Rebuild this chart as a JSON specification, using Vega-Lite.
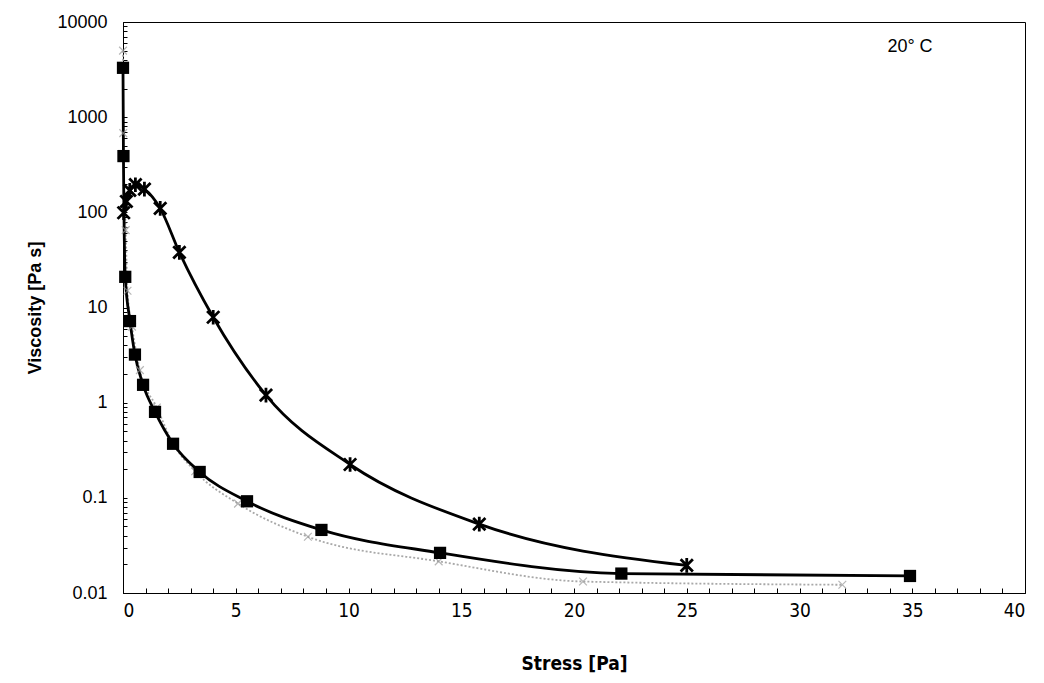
{
  "$schema": "https://vega.github.io/schema/vega-lite/v6.json",
  "width": 902,
  "height": 571,
  "autosize": {"type": "none"},
  "padding": {"left": 123, "top": 22, "right": 19, "bottom": 90},
  "background": "white",
  "config": {
    "view": {"stroke": "black", "strokeWidth": 1},
    "axis": {"grid": false, "domainColor": "black", "tickColor": "black", "labelColor": "black", "titleColor": "black"}
  },
  "datasets": {
    "curves": [
      {"series": "square", "stress": 0.0, "viscosity": 3300},
      {"series": "square", "stress": 0.02, "viscosity": 390},
      {"series": "square", "stress": 0.1, "viscosity": 21},
      {"series": "square", "stress": 0.31, "viscosity": 7.2},
      {"series": "square", "stress": 0.53, "viscosity": 3.2},
      {"series": "square", "stress": 0.89, "viscosity": 1.54},
      {"series": "square", "stress": 1.42, "viscosity": 0.8},
      {"series": "square", "stress": 2.22, "viscosity": 0.37},
      {"series": "square", "stress": 3.4, "viscosity": 0.187},
      {"series": "square", "stress": 5.5, "viscosity": 0.092},
      {"series": "square", "stress": 8.8, "viscosity": 0.046},
      {"series": "square", "stress": 14.06, "viscosity": 0.0264},
      {"series": "square", "stress": 22.1, "viscosity": 0.016},
      {"series": "square", "stress": 34.9, "viscosity": 0.0151},
      {"series": "star", "stress": 0.03, "viscosity": 99},
      {"series": "star", "stress": 0.15, "viscosity": 130},
      {"series": "star", "stress": 0.3, "viscosity": 170},
      {"series": "star", "stress": 0.55, "viscosity": 195},
      {"series": "star", "stress": 0.95, "viscosity": 175},
      {"series": "star", "stress": 1.65, "viscosity": 110},
      {"series": "star", "stress": 2.5, "viscosity": 38},
      {"series": "star", "stress": 4.0, "viscosity": 7.9},
      {"series": "star", "stress": 6.34, "viscosity": 1.2},
      {"series": "star", "stress": 10.07, "viscosity": 0.224},
      {"series": "star", "stress": 15.8, "viscosity": 0.053},
      {"series": "star", "stress": 25.0, "viscosity": 0.0195},
      {"series": "cross", "stress": 0.0, "viscosity": 5000},
      {"series": "cross", "stress": 0.01, "viscosity": 680},
      {"series": "cross", "stress": 0.12, "viscosity": 65},
      {"series": "cross", "stress": 0.2, "viscosity": 15},
      {"series": "cross", "stress": 0.4, "viscosity": 6.3},
      {"series": "cross", "stress": 0.75, "viscosity": 2.2},
      {"series": "cross", "stress": 1.5, "viscosity": 0.89},
      {"series": "cross", "stress": 2.2, "viscosity": 0.38},
      {"series": "cross", "stress": 3.2, "viscosity": 0.19},
      {"series": "cross", "stress": 5.1, "viscosity": 0.087},
      {"series": "cross", "stress": 8.2, "viscosity": 0.039},
      {"series": "cross", "stress": 14.0, "viscosity": 0.0215},
      {"series": "cross", "stress": 20.4, "viscosity": 0.0132},
      {"series": "cross", "stress": 31.9, "viscosity": 0.0122}
    ],
    "note": [{"stress": 34.9, "viscosity": 5460, "label": "20° C"}]
  },
  "encoding": {
    "x": {
      "field": "stress", "type": "quantitative",
      "scale": {"domain": [0, 40], "nice": false, "zero": false},
      "axis": {
        "title": "Stress [Pa]",
        "values": [0,1,2,3,4,5,6,7,8,9,10,11,12,13,14,15,16,17,18,19,20,21,22,23,24,25,26,27,28,29,30,31,32,33,34,35,36,37,38,39,40],
        "labelExpr": "datum.value % 5 == 0 ? datum.label : ''",
        "labelOverlap": false,
        "tickSize": -5,
        "labelPadding": 13,
        "labelFont": "DejaVu Sans Condensed, Liberation Sans, sans-serif",
        "labelFontSize": 19,
        "titleFont": "DejaVu Sans Condensed, Liberation Sans, sans-serif",
        "titleFontSize": 19,
        "titleFontWeight": "bold",
        "titlePadding": 34
      }
    },
    "y": {
      "field": "viscosity", "type": "quantitative",
      "scale": {"type": "log", "domain": [0.01, 10000], "nice": false},
      "axis": {
        "title": "Viscosity [Pa s]",
        "values": [0.01,0.02,0.03,0.04,0.05,0.06,0.07,0.08,0.09,0.1,0.2,0.3,0.4,0.5,0.6,0.7,0.8,0.9,1,2,3,4,5,6,7,8,9,10,20,30,40,50,60,70,80,90,100,200,300,400,500,600,700,800,900,1000,2000,3000,4000,5000,6000,7000,8000,9000,10000],
        "labelExpr": "abs(log(datum.value)/LN10 - round(log(datum.value)/LN10)) < 0.000001 ? datum.label : ''",
        "format": "~g",
        "labelOverlap": false,
        "tickSize": -4,
        "labelPadding": 20,
        "labelFont": "Liberation Sans",
        "labelFontSize": 18,
        "titleFont": "Liberation Sans",
        "titleFontSize": 18,
        "titleFontWeight": "bold",
        "titlePadding": 12
      }
    }
  },
  "layer": [
    {
      "data": {"name": "curves"},
      "transform": [{"filter": "datum.series == 'cross'"}],
      "mark": {"type": "line", "interpolate": "monotone", "stroke": "#a8a8a8", "strokeWidth": 1.8, "strokeDash": [2, 2]}
    },
    {
      "data": {"name": "curves"},
      "transform": [{"filter": "datum.series == 'square'"}],
      "mark": {"type": "line", "interpolate": "monotone", "stroke": "black", "strokeWidth": 2.8}
    },
    {
      "data": {"name": "curves"},
      "transform": [{"filter": "datum.series == 'star'"}],
      "mark": {"type": "line", "interpolate": "monotone", "stroke": "black", "strokeWidth": 2.8}
    },
    {
      "data": {"name": "curves"},
      "transform": [{"filter": "datum.series == 'cross'"}],
      "mark": {"type": "point", "shape": "M-1,-1L1,1M-1,1L1,-1", "filled": false, "stroke": "#999999", "strokeWidth": 1.2, "size": 60}
    },
    {
      "data": {"name": "curves"},
      "transform": [{"filter": "datum.series == 'square'"}],
      "mark": {"type": "point", "shape": "square", "filled": true, "fill": "black", "opacity": 1, "size": 150}
    },
    {
      "data": {"name": "curves"},
      "transform": [{"filter": "datum.series == 'star'"}],
      "mark": {"type": "point", "shape": "M-1,-1L1,1M-1,1L1,-1M0,-1.2L0,1.2", "filled": false, "stroke": "black", "strokeWidth": 2.8, "opacity": 1, "size": 150}
    },
    {
      "data": {"name": "note"},
      "mark": {"type": "text", "font": "Liberation Sans", "fontSize": 18, "color": "black", "align": "center", "baseline": "middle"},
      "encoding": {"text": {"field": "label"}}
    }
  ]
}
